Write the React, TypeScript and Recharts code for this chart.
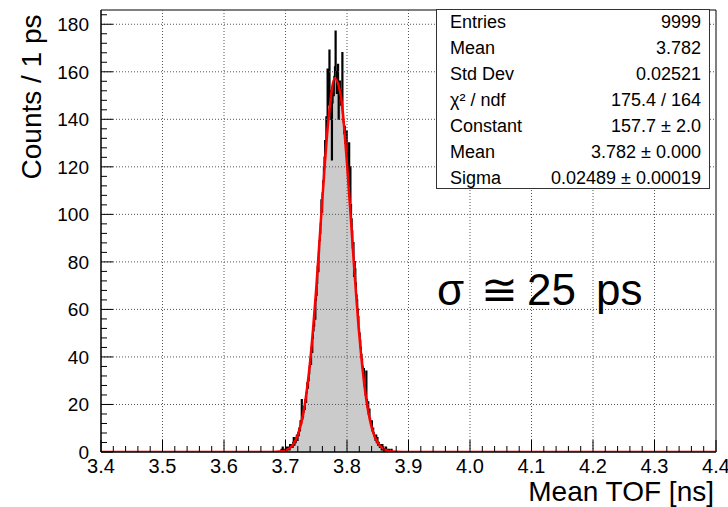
import React from "react";
import { ComposedChart, Area, Line, XAxis, YAxis, ReferenceLine, ReferenceArea } from "recharts";

// histogram: 1 ps bins starting at 3.690 ns
const binStart = 3.69;
const binWidth = 0.001;
const counts = [
  0, 0, 0, 1, 0, 2, 0, 1, 1, 0,
  1, 0, 2, 1, 1, 2, 1, 3, 2, 2,
  3, 2, 4, 6, 3, 5, 4, 6, 7, 5,
  8, 7, 10, 9, 13, 12, 22, 14, 15, 17,
  19, 18, 22, 21, 25, 29, 27, 30, 33, 36,
  39, 37, 44, 42, 48, 51, 53, 58, 56, 64,
  66, 71, 78, 76, 84, 89, 92, 96, 106, 101,
  109, 114, 120, 124, 131, 128, 141, 137, 161, 146,
  151, 169, 144, 152, 140, 123, 147, 155, 150, 158,
  162, 177, 160, 151, 155, 163, 140, 149, 156, 150,
  146, 152, 168, 143, 139, 134, 137, 130, 128, 135,
  121, 126, 118, 130, 112, 120, 104, 98, 93, 86,
  88, 74, 80, 77, 71, 66, 64, 60, 57, 52,
  50, 47, 44, 41, 39, 36, 33, 35, 28, 27,
  24, 34, 22, 19, 21, 16, 18, 14, 13, 12,
  13, 9, 10, 8, 7, 6, 5, 7, 4, 6,
  3, 4, 3, 2, 3, 2, 1, 3, 1, 1,
  1, 0, 1, 2, 0, 1, 0, 0, 1, 0,
  0, 0, 1, 0, 0, 0, 0, 0, 0, 0,
];

// gaussian fit curve
const fitX = [3.4, 3.68, 3.69, 3.7, 3.71, 3.72, 3.73, 3.74, 3.75, 3.76, 3.77, 3.78, 3.79, 3.8, 3.81, 3.82, 3.83, 3.84, 3.85, 3.86, 3.87, 3.88, 3.9, 4.4];
const fitY = [0, 0.05, 0.17, 0.7, 2.4, 7.1, 17.8, 38.0, 69.0, 106.7, 140.4, 157.2, 149.8, 121.4, 83.8, 49.2, 24.6, 10.4, 3.8, 1.2, 0.3, 0.1, 0, 0];

const xMajor = [3.4, 3.5, 3.6, 3.7, 3.8, 3.9, 4.0, 4.1, 4.2, 4.3, 4.4];
const yMajor = [0, 20, 40, 60, 80, 100, 120, 140, 160, 180];
const yMax = 186;

const statsLabels = ["Entries", "Mean", "Std Dev", "\u03c7\u00b2 / ndf", "Constant", "Mean", "Sigma"];
const statsValues = ["9999", "3.782", "0.02521", "175.4 / 164", "157.7 \u00b1 2.0", "3.782 \u00b1 0.000", "0.02489 \u00b1 0.00019"];

const FONT = "'Liberation Sans', Arial, Helvetica, sans-serif";

const histData = counts.map((c, i) => ({ x: +(binStart + i * binWidth).toFixed(3), y: c }));
histData.push({ x: +(binStart + counts.length * binWidth).toFixed(3), y: 0 });
const fitData = fitX.map((x, i) => ({ x, f: fitY[i] }));

const xTicks = Array.from({ length: 51 }, (_, i) => +(3.4 + i * 0.02).toFixed(2));
const yTicks = Array.from({ length: 47 }, (_, i) => i * 4);

const isXMajor = (v: number) => Math.abs(v * 10 - Math.round(v * 10)) < 1e-6;

const XTick = (props: any) => {
  const { x, y, payload } = props;
  const v = payload.value;
  const major = isXMajor(v);
  return (
    <g>
      <line x1={x} y1={y} x2={x} y2={y - (major ? 12 : 6)} stroke="#000" strokeWidth={1} />
      {major && (
        <text x={x} y={y + 21} textAnchor="middle" fontSize={20} fontFamily={FONT} fill="#000">
          {v.toFixed(1)}
        </text>
      )}
    </g>
  );
};

const YTick = (props: any) => {
  const { x, y, payload } = props;
  const v = payload.value;
  const major = v % 20 === 0;
  return (
    <g>
      <line x1={x} y1={y} x2={x + (major ? 12 : 6)} y2={y} stroke="#000" strokeWidth={1} />
      {major && (
        <text x={x - 12} y={y + 7} textAnchor="end" fontSize={19} fontFamily={FONT} fill="#000">
          {v}
        </text>
      )}
    </g>
  );
};

export default function App() {
  return (
    <div style={{ position: "absolute", left: 0, top: 0, width: 728, height: 507, background: "#fff" }}>
      <ComposedChart width={728} height={507} margin={{ top: 10, right: 12, bottom: 0, left: 0 }}>
        <XAxis
          dataKey="x"
          type="number"
          domain={[3.4, 4.4]}
          ticks={xTicks}
          interval={0}
          allowDataOverflow
          height={55}
          tickSize={0}
          tickMargin={0}
          tick={<XTick />}
          axisLine={{ stroke: "#000" }}
        />
        <YAxis
          type="number"
          domain={[0, yMax]}
          ticks={yTicks}
          interval={0}
          allowDataOverflow
          width={101}
          tickSize={0}
          tickMargin={0}
          tick={<YTick />}
          axisLine={{ stroke: "#000" }}
        />
        <Area
          data={histData}
          dataKey="y"
          type="stepAfter"
          fill="#cbcbcb"
          fillOpacity={1}
          stroke="#000"
          strokeWidth={1.6}
          isAnimationActive={false}
        />
        {xMajor.slice(1, -1).map((v) => (
          <ReferenceLine key={"gx" + v} x={v} stroke="#555" strokeDasharray="1 2" />
        ))}
        {yMajor.slice(1).map((v) => (
          <ReferenceLine key={"gy" + v} y={v} stroke="#555" strokeDasharray="1 2" />
        ))}
        <Line
          data={fitData}
          dataKey="f"
          type="monotone"
          stroke="#ff0000"
          strokeWidth={2.5}
          dot={false}
          isAnimationActive={false}
        />
        <ReferenceArea x1={3.4} x2={4.4} y1={0} y2={yMax} fill="none" stroke="#000" strokeWidth={1} />
      </ComposedChart>
      <svg width={728} height={507} style={{ position: "absolute", left: 0, top: 0, pointerEvents: "none" }}>
        <rect x={436.5} y={9.5} width={273} height={179} fill="#fff" stroke="#333" strokeWidth={1} />
        {statsLabels.map((s, i) => (
          <text key={"l" + i} x={450} y={28 + i * 26} fontSize={18} fontFamily={FONT} fill="#000">
            {s}
          </text>
        ))}
        {statsValues.map((s, i) => (
          <text key={"v" + i} x={701} y={28 + i * 26} fontSize={18} fontFamily={FONT} textAnchor="end" fill="#000">
            {s}
          </text>
        ))}
        <text y={305} fontSize={44} fontFamily={FONT} fill="#000">
          <tspan x={437}>{"\u03c3"}</tspan>
          <tspan x={481}>{"\u2245"}</tspan>
          <tspan x={527}>25</tspan>
          <tspan x={596}>ps</tspan>
        </text>
        <text x={714} y={501} fontSize={28} fontFamily={FONT} textAnchor="end" fill="#000">
          Mean TOF [ns]
        </text>
        <text transform="translate(41,97) rotate(-90)" fontSize={28} fontFamily={FONT} textAnchor="middle" fill="#000">
          Counts / 1 ps
        </text>
      </svg>
    </div>
  );
}
